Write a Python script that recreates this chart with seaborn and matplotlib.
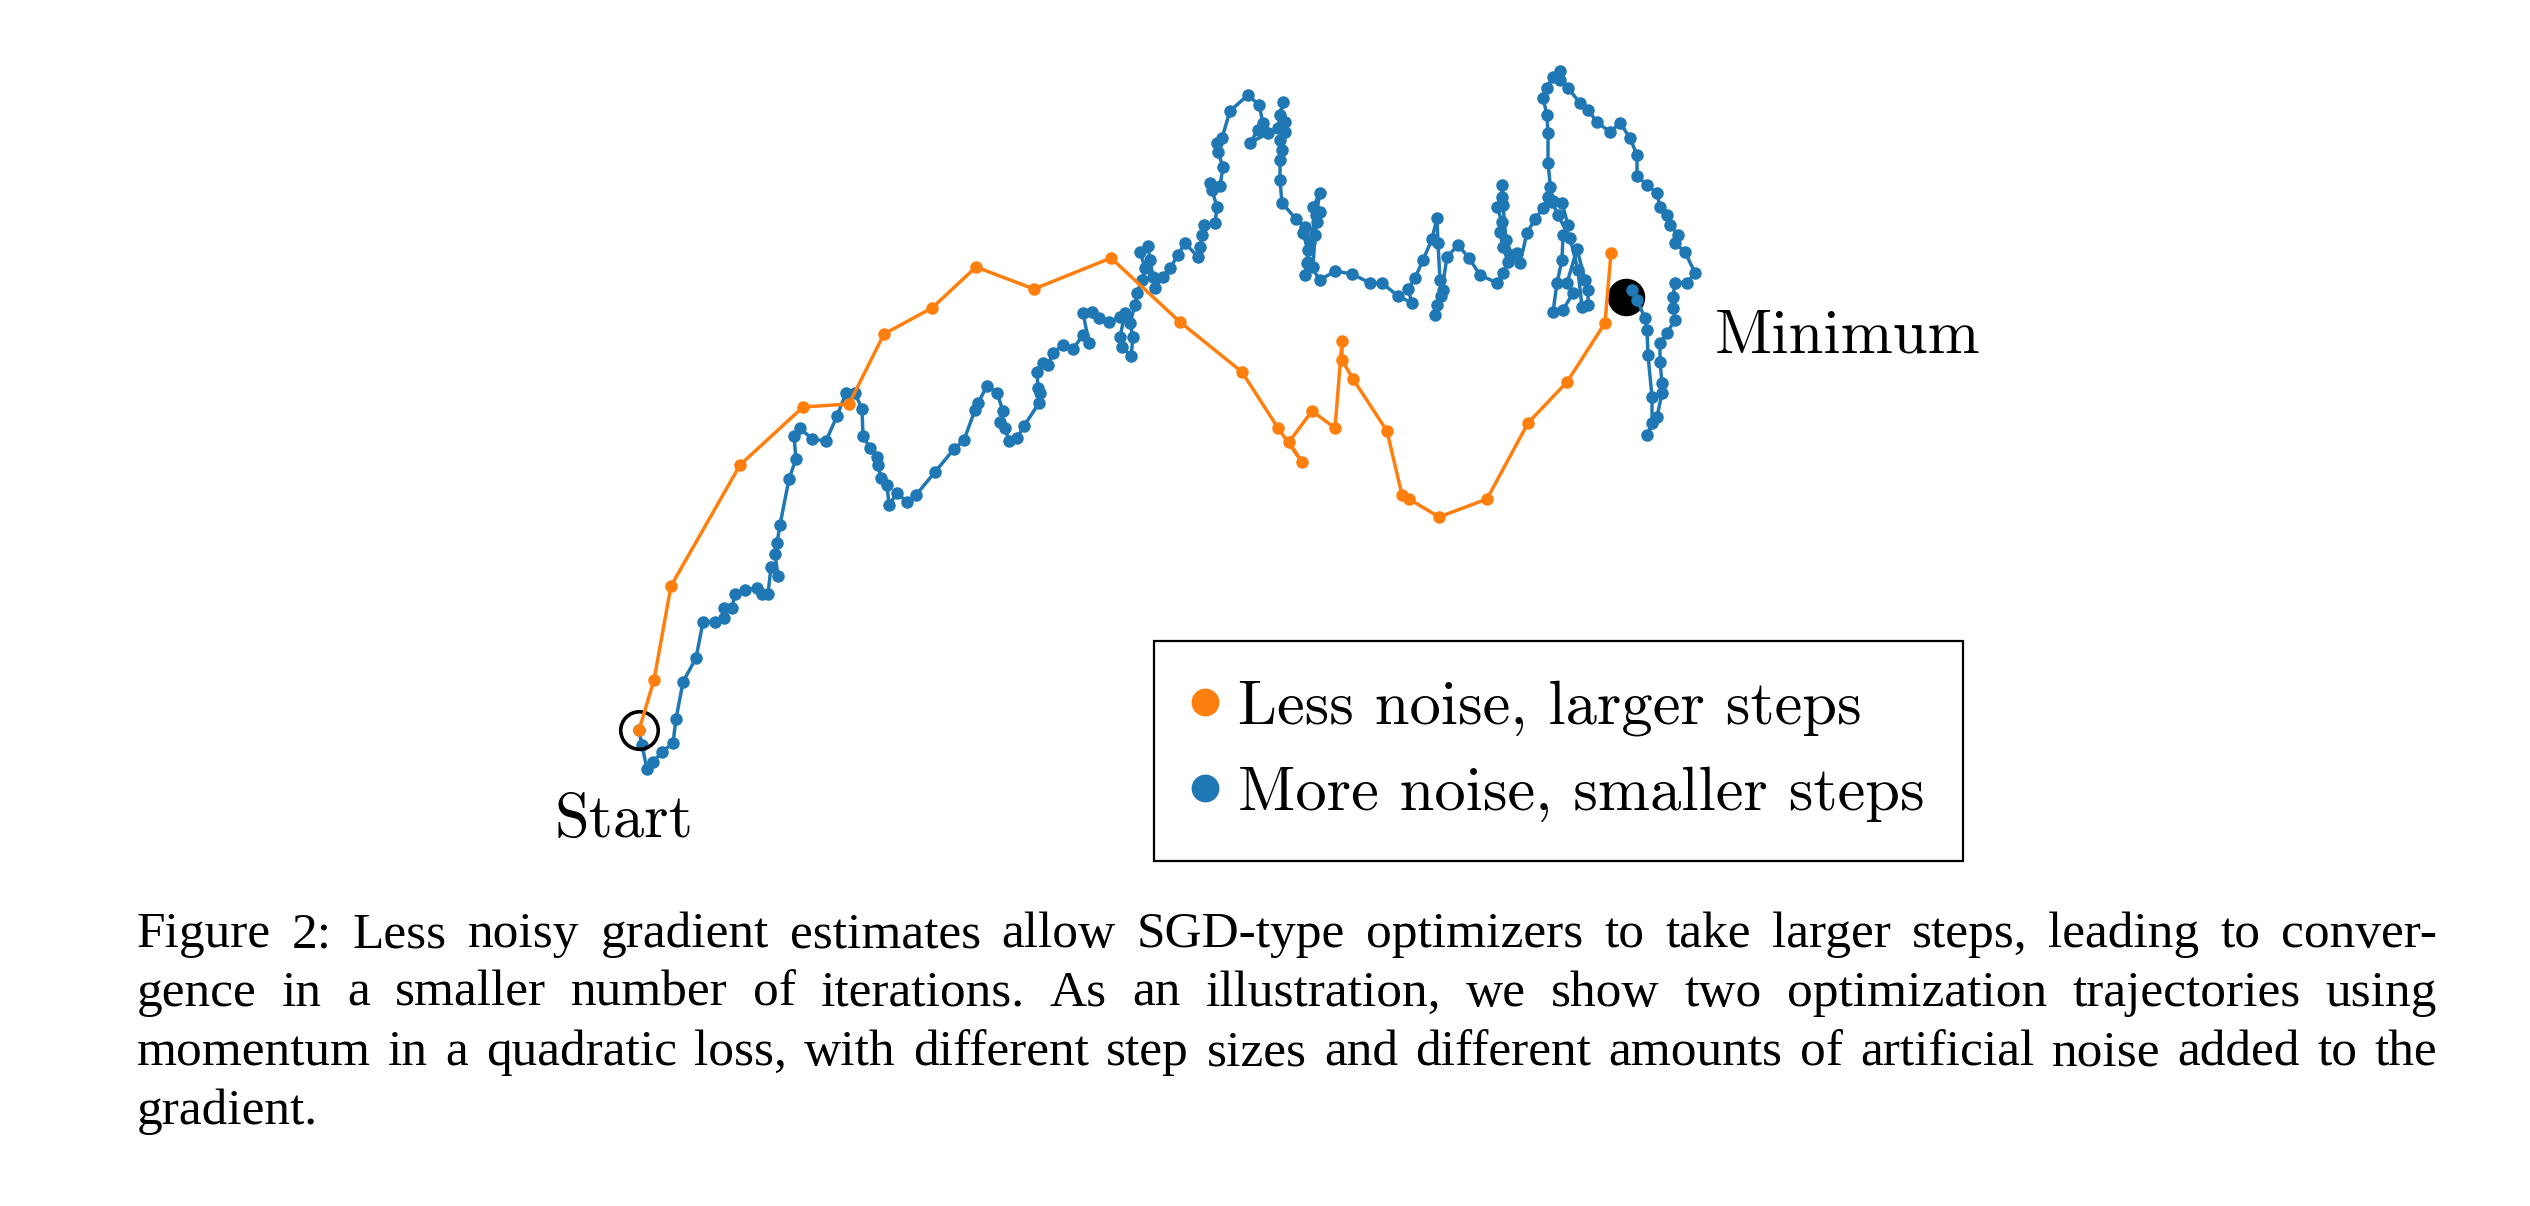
import numpy as np
import pandas as pd
import matplotlib
matplotlib.use("Agg")
import matplotlib.pyplot as plt
from matplotlib.lines import Line2D
import seaborn as sns

# trajectory points (arbitrary landscape units, start at origin)
orange_x = [0.00, 0.15, 0.32, 1.01, 1.64, 2.10, 2.45, 2.93, 3.37, 3.95, 4.72, 5.41, 6.03, 6.39, 6.63,
            6.50, 6.73, 6.96, 7.03, 7.03, 7.14, 7.48, 7.63, 7.70, 8.00, 8.48, 8.89, 9.28, 9.66, 9.72]
orange_y = [0.00, 0.50, 1.44, 2.65, 3.23, 3.26, 3.96, 4.22, 4.63, 4.41, 4.72, 4.08, 3.58, 3.02, 2.68,
            2.88, 3.19, 3.02, 3.89, 3.70, 3.51, 2.99, 2.35, 2.31, 2.13, 2.31, 3.07, 3.48, 4.07, 4.77]

blue_x = [0.00, 0.03, 0.08, 0.14, 0.23, 0.34, 0.37, 0.44, 0.57, 0.64, 0.76, 0.85, 0.85, 0.93, 0.96,
          1.06, 1.18, 1.23, 1.29, 1.32, 1.39, 1.36, 1.38, 1.41, 1.50, 1.57, 1.55, 1.61, 1.73, 1.87,
          1.98, 2.07, 2.16, 2.23, 2.24, 2.31, 2.38, 2.39, 2.42, 2.48, 2.50, 2.58, 2.68, 2.77, 2.96,
          3.15, 3.25, 3.36, 3.39, 3.48, 3.58, 3.64, 3.61, 3.66, 3.70, 3.78, 3.85, 4.00, 4.01, 3.99,
          3.98, 4.04, 4.09, 4.14, 4.24, 4.34, 4.44, 4.50, 4.44, 4.53, 4.60, 4.70, 4.81, 4.86, 4.81,
          4.83, 4.92, 4.94, 4.91, 4.96, 4.98, 5.03, 5.06, 5.01, 5.09, 5.11, 5.14, 5.16, 5.24, 5.31,
          5.39, 5.46, 5.59, 5.61, 5.63, 5.65, 5.76, 5.78, 5.73, 5.71, 5.81, 5.84, 5.79, 5.78, 5.83,
          5.91, 6.09, 6.20, 6.24, 6.19, 6.11, 6.29, 6.39, 6.44, 6.41, 6.46, 6.46, 6.41, 6.43, 6.41,
          6.41, 6.43, 6.57, 6.66, 6.64, 6.69, 6.68, 6.66, 6.74, 6.76, 6.78, 6.81, 6.74, 6.81, 6.77,
          6.71, 6.69, 6.81, 6.96, 7.13, 7.31, 7.43, 7.59, 7.73, 7.69, 7.76, 7.84, 7.93, 7.98, 7.99,
          8.01, 8.04, 7.98, 7.96, 8.02, 8.08, 8.19, 8.30, 8.41, 8.58, 8.64, 8.69, 8.64, 8.61, 8.63,
          8.58, 8.63, 8.63, 8.64, 8.67, 8.73, 8.78, 8.81, 8.88, 8.96, 9.04, 9.09, 9.11, 9.14, 9.23,
          9.29, 9.24, 9.23, 9.18, 9.14, 9.24, 9.34, 9.28, 9.38, 9.46, 9.49, 9.49, 9.43, 9.39, 9.31,
          9.19, 9.13, 9.09, 9.09, 9.08, 9.04, 9.08, 9.14, 9.21, 9.21, 9.29, 9.41, 9.49, 9.58, 9.71,
          9.81, 9.91, 9.98, 9.98, 10.08, 10.18, 10.21, 10.28, 10.31, 10.39, 10.36, 10.46, 10.56, 10.48, 10.36,
          10.34, 10.34, 10.36, 10.28, 10.21, 10.21, 10.23, 10.23, 10.18, 10.08, 10.13, 10.13, 10.09, 10.08, 10.06,
          9.98, 9.93]
blue_y = [0.00, -0.15, -0.39, -0.32, -0.22, -0.13, 0.11, 0.48, 0.72, 1.08, 1.08, 1.12, 1.22, 1.22, 1.36,
          1.40, 1.42, 1.36, 1.36, 1.63, 1.54, 1.76, 1.87, 2.05, 2.51, 2.71, 2.94, 3.02, 2.91, 2.89,
          3.14, 3.37, 3.37, 3.21, 2.94, 2.82, 2.73, 2.65, 2.52, 2.45, 2.25, 2.37, 2.28, 2.35, 2.58,
          2.81, 2.90, 3.20, 3.27, 3.44, 3.37, 3.19, 3.08, 3.02, 2.89, 2.92, 3.04, 3.27, 3.37, 3.42,
          3.58, 3.67, 3.65, 3.77, 3.85, 3.81, 3.95, 3.87, 4.17, 4.18, 4.12, 4.08, 4.13, 4.17, 3.93,
          3.83, 3.74, 3.93, 4.07, 4.25, 4.37, 4.50, 4.62, 4.78, 4.84, 4.70, 4.53, 4.42, 4.53, 4.62,
          4.75, 4.87, 4.73, 4.83, 4.95, 5.05, 5.07, 5.23, 5.40, 5.47, 5.44, 5.63, 5.78, 5.87, 5.92,
          6.19, 6.35, 6.25, 6.07, 6.00, 5.87, 5.97, 6.02, 6.28, 6.15, 6.08, 5.98, 5.90, 5.80, 5.70,
          5.50, 5.27, 5.11, 5.03, 4.97, 4.80, 4.67, 4.55, 4.63, 4.95, 5.08, 5.18, 5.23, 5.37, 5.15,
          4.88, 4.68, 4.50, 4.59, 4.56, 4.47, 4.47, 4.34, 4.27, 4.41, 4.52, 4.70, 4.91, 5.12, 4.87,
          4.50, 4.40, 4.25, 4.15, 4.34, 4.73, 4.85, 4.72, 4.55, 4.47, 4.57, 4.68, 4.83, 4.98, 5.08,
          5.23, 5.33, 5.45, 5.25, 4.90, 4.75, 4.77, 4.67, 4.97, 5.11, 5.22, 5.33, 5.43, 5.29, 5.27,
          5.05, 4.95, 4.70, 4.47, 4.18, 4.20, 4.37, 4.47, 4.81, 4.50, 4.40, 4.25, 4.23, 4.60, 4.92,
          5.15, 5.28, 5.67, 5.97, 6.15, 6.32, 6.42, 6.53, 6.59, 6.50, 6.42, 6.27, 6.20, 6.08, 5.98,
          6.07, 5.92, 5.75, 5.54, 5.45, 5.37, 5.23, 5.15, 5.05, 4.95, 4.87, 4.78, 4.57, 4.47, 4.47,
          4.33, 4.22, 4.10, 3.97, 3.87, 3.68, 3.47, 3.37, 3.13, 2.95, 3.07, 3.33, 3.75, 4.00, 4.12,
          4.30, 4.40]

start_point = (0.00, 0.00)
minimum_point = (9.87, 4.33)
series_labels = ["Less noise, larger steps", "More noise, smaller steps"]

caption_lines = [
    "Figure 2: Less noisy gradient estimates allow SGD-type optimizers to take larger steps, leading to conver-",
    "gence in a smaller number of iterations.  As an illustration, we show two optimization trajectories using",
    "momentum in a quadratic loss, with different step sizes and different amounts of artificial noise added to the",
    "gradient.",
]

sns.set_style("white")
plt.rcParams['font.family'] = ['cmr10', 'DejaVu Serif']
plt.rcParams['text.color'] = 'black'

W, H = 2530, 1206
fig = plt.figure(figsize=(W / 100, H / 100), dpi=100)
ax = fig.add_axes([0, 0, 1, 1])

blue = '#1f77b4'
orange = '#ff7f0e'

# minimum marker sits under the blue trajectory
ax.plot(*minimum_point, marker='o', ms=26, color='black', zorder=1)

df_blue = pd.DataFrame({'x': blue_x, 'y': blue_y})
df_orange = pd.DataFrame({'x': orange_x, 'y': orange_y})
sns.lineplot(data=df_blue, x='x', y='y', sort=False, estimator=None, color=blue,
             marker='o', markersize=9, markeredgewidth=0, linewidth=2.5, ax=ax, zorder=2)
sns.lineplot(data=df_orange, x='x', y='y', sort=False, estimator=None, color=orange,
             marker='o', markersize=9, markeredgewidth=0, linewidth=2.5, ax=ax, zorder=3)

# hollow circle at the start
ax.plot(*start_point, marker='o', ms=27, mfc='none', mec='black', mew=2.6, zorder=2.5)
ax.set_xlim(-6.39, 18.91)
ax.set_ylim(-4.76, 7.30)
ax.axis('off')

ax.text(-0.15, -1.07, "Start", fontsize=45, ha='center', va='baseline', color='black')
ax.text(10.76, 3.77, "Minimum", fontsize=45, ha='left', va='baseline', color='black')

handles = [Line2D([], [], marker='o', linestyle='none', color=orange, markersize=19),
           Line2D([], [], marker='o', linestyle='none', color=blue, markersize=19)]
leg = ax.legend(handles, series_labels, loc='upper left', bbox_to_anchor=(1154 / W, 1 - 641 / H),
                bbox_transform=fig.transFigure, borderaxespad=0, fontsize=45,
                frameon=True, fancybox=False, framealpha=1, edgecolor='black',
                handlelength=0.4, handletextpad=0.32, borderpad=0.62, labelspacing=0.48)
leg.get_frame().set_linewidth(1.6)
for t in leg.get_texts():
    t.set_color('black')

# justified caption under the plot
cap_font = dict(fontsize=37, family='Liberation Serif', color='black')
left, right = 137, 2437
baselines = [947, 1006, 1065, 1124]
fig.canvas.draw()
renderer = fig.canvas.get_renderer()
for line, base in zip(caption_lines, baselines):
    yy = 1 - base / H
    if line is caption_lines[-1]:
        fig.text(left / W, yy, line, va='baseline', ha='left', **cap_font)
        continue
    words = line.split()
    texts = [fig.text(0, yy, w, va='baseline', ha='left', **cap_font) for w in words]
    widths = [t.get_window_extent(renderer).width for t in texts]
    gap = (right - left - sum(widths)) / (len(words) - 1)
    x = left
    for t, w in zip(texts, widths):
        t.set_x(x / W)
        x += w + gap

fig.savefig("out.png", dpi=100)
